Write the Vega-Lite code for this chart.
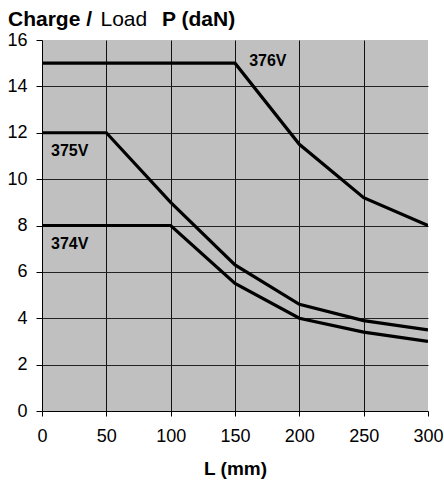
{
  "$schema": "https://vega.github.io/schema/vega-lite/v6.json",
  "autosize": {"type": "none"},
  "padding": {"left": 42, "top": 40, "right": 16, "bottom": 71},
  "width": 386,
  "height": 371,
  "background": "white",
  "config": {
    "font": "Liberation Sans",
    "view": {"fill": "#c0c0c0", "stroke": null}
  },
  "title": {
    "text": "Charge /\u00a0\u00a0\u00a0\u00a0\u00a0\u00a0\u00a0\u00a0\u00a0\u00a0\u00a0\u00a0P (daN)",
    "anchor": "start",
    "frame": "group",
    "fontSize": 21,
    "fontWeight": "bold",
    "font": "Liberation Sans",
    "color": "black",
    "dx": -34,
    "dy": 39,
    "offset": 0,
    "baseline": "alphabetic"
  },
  "datasets": {
    "curves": [
      {"series": "376V", "L": 0, "P": 15},
      {"series": "376V", "L": 150, "P": 15},
      {"series": "376V", "L": 200, "P": 11.5},
      {"series": "376V", "L": 250, "P": 9.2},
      {"series": "376V", "L": 300, "P": 8},
      {"series": "375V", "L": 0, "P": 12},
      {"series": "375V", "L": 50, "P": 12},
      {"series": "375V", "L": 100, "P": 9},
      {"series": "375V", "L": 150, "P": 6.3},
      {"series": "375V", "L": 200, "P": 4.6},
      {"series": "375V", "L": 250, "P": 3.9},
      {"series": "375V", "L": 300, "P": 3.5},
      {"series": "374V", "L": 0, "P": 8},
      {"series": "374V", "L": 100, "P": 8},
      {"series": "374V", "L": 150, "P": 5.5},
      {"series": "374V", "L": 200, "P": 4},
      {"series": "374V", "L": 250, "P": 3.4},
      {"series": "374V", "L": 300, "P": 3}
    ],
    "labels": [
      {"label": "376V", "L": 161, "P": 15.1},
      {"label": "375V", "L": 7, "P": 11.2},
      {"label": "374V", "L": 7, "P": 7.2}
    ]
  },
  "layer": [
    {
      "data": {"name": "curves"},
      "mark": {"type": "line", "color": "black", "strokeWidth": 3.2, "clip": true},
      "encoding": {
        "x": {
          "field": "L",
          "type": "quantitative",
          "scale": {"domain": [0, 300], "nice": false},
          "axis": {
            "values": [0, 50, 100, 150, 200, 250, 300],
            "title": "L (mm)",
            "titleFont": "Liberation Sans",
            "titleFontSize": 19,
            "titleFontWeight": "bold",
            "titleColor": "black",
            "titlePadding": 14,
            "labelFont": "Liberation Sans",
            "labelFontSize": 18,
            "labelColor": "black",
            "labelPadding": 11,
            "labelFlush": false,
            "domainColor": "black",
            "tickColor": "black",
            "tickSize": 5,
            "grid": true,
            "gridColor": "#111111",
            "gridWidth": 1,
            "gridOpacity": {"condition": {"test": "datum.value == 0 || datum.value == 300", "value": 0}, "value": 1}
          }
        },
        "y": {
          "field": "P",
          "type": "quantitative",
          "scale": {"domain": [0, 16], "nice": false},
          "axis": {
            "values": [0, 2, 4, 6, 8, 10, 12, 14, 16],
            "title": "Load",
            "titleAngle": 0,
            "titleAlign": "left",
            "titleBaseline": "alphabetic",
            "titleX": 58,
            "titleY": -15,
            "titleFont": "Liberation Sans",
            "titleFontSize": 21,
            "titleFontWeight": "normal",
            "titleColor": "black",
            "labelFont": "Liberation Sans",
            "labelFontSize": 18,
            "labelColor": "black",
            "labelPadding": 9,
            "labelFlush": false,
            "domainColor": "black",
            "tickColor": "black",
            "tickSize": 6,
            "grid": true,
            "gridColor": "#222222",
            "gridWidth": 1,
            "gridOpacity": {"condition": {"test": "datum.value == 0 || datum.value == 16", "value": 0}, "value": 1}
          }
        },
        "detail": {"field": "series", "type": "nominal"}
      }
    },
    {
      "data": {"name": "labels"},
      "mark": {"type": "text", "align": "left", "baseline": "middle", "fontSize": 16, "fontWeight": "bold", "font": "Liberation Sans", "color": "black"},
      "encoding": {
        "x": {"field": "L", "type": "quantitative"},
        "y": {"field": "P", "type": "quantitative"},
        "text": {"field": "label", "type": "nominal"}
      }
    }
  ]
}
